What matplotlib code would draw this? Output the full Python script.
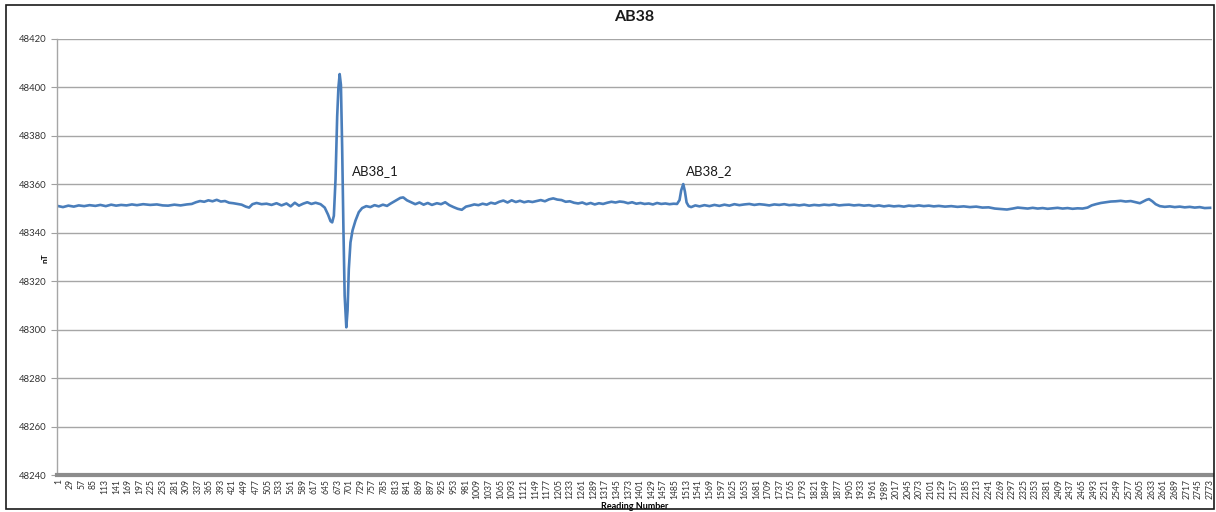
import matplotlib.pyplot as plt
from matplotlib.patches import Rectangle

# Magnetometer readings (reading number, total field in nT)
readings = [
    1, 12, 25, 38, 50, 63, 76, 90, 102, 115, 128, 140, 152, 165, 178, 190,
    205, 222, 238, 252, 265, 280, 295, 310, 322, 332, 342, 352, 362, 372,
    382, 392, 402, 412, 422, 432, 442, 452, 460, 468, 478, 490, 502, 514,
    526, 538, 550, 560, 570, 580, 590, 600, 610, 620, 632, 642, 650, 656,
    660, 664, 668, 672, 675, 678, 681, 684, 687, 690, 694, 697, 700, 704,
    709, 716, 724, 732, 742, 752, 762, 772, 782, 792, 800, 808, 816, 824,
    831, 840, 850, 860, 870, 880, 890, 900, 912, 922, 932, 942, 952, 962,
    972, 982, 992, 1002, 1012, 1022, 1032, 1042, 1052, 1062, 1072, 1082,
    1092, 1102, 1112, 1122, 1132, 1142, 1152, 1162, 1172, 1182, 1192, 1202,
    1212, 1222, 1232, 1242, 1252, 1262, 1272, 1282, 1292, 1302, 1312, 1322,
    1332, 1342, 1352, 1362, 1372, 1382, 1392, 1402, 1412, 1422, 1432, 1442,
    1452, 1462, 1472, 1482, 1490, 1496, 1500, 1505, 1509, 1513, 1518, 1524,
    1534, 1544, 1556, 1568, 1580, 1592, 1604, 1616, 1628, 1640, 1652, 1664,
    1676, 1688, 1700, 1712, 1724, 1736, 1748, 1760, 1772, 1784, 1796, 1808,
    1820, 1832, 1844, 1856, 1868, 1880, 1892, 1904, 1916, 1928, 1940, 1952,
    1964, 1976, 1988, 2000, 2012, 2024, 2036, 2048, 2060, 2072, 2084, 2096,
    2108, 2120, 2135, 2150, 2165, 2180, 2195, 2210, 2225, 2240, 2255, 2270,
    2284, 2298, 2310, 2322, 2334, 2346, 2358, 2370, 2382, 2394, 2406, 2418,
    2430, 2442, 2454, 2466, 2478, 2488, 2498, 2510, 2522, 2534, 2546, 2558,
    2570, 2582, 2594, 2604, 2612, 2620, 2626, 2634, 2642, 2652, 2664, 2676,
    2688, 2700, 2712, 2724, 2736, 2748, 2760, 2773,
]
field_nt = [
    48351.0, 48350.6, 48351.2, 48350.8, 48351.3, 48351.0, 48351.4, 48351.1,
    48351.5, 48351.0, 48351.6, 48351.2, 48351.5, 48351.3, 48351.7, 48351.4,
    48351.8, 48351.5, 48351.7, 48351.3, 48351.2, 48351.6, 48351.3, 48351.7,
    48351.9, 48352.6, 48353.1, 48352.8, 48353.4, 48353.0, 48353.6, 48352.9,
    48353.1, 48352.4, 48352.2, 48351.9, 48351.6, 48350.8, 48350.4, 48351.8,
    48352.3, 48351.8, 48352.0, 48351.5, 48352.2, 48351.3, 48352.1, 48350.9,
    48352.4, 48351.2, 48352.0, 48352.6, 48351.9, 48352.4, 48351.8, 48350.4,
    48347.5, 48344.8, 48344.3, 48347.0, 48362.0, 48388.0, 48400.0, 48405.5,
    48401.0, 48375.0, 48342.0, 48314.0, 48301.0, 48308.0, 48325.0, 48336.0,
    48341.0, 48345.0, 48348.5, 48350.2, 48351.0, 48350.6, 48351.4, 48350.9,
    48351.6, 48351.1, 48352.0, 48352.8, 48353.6, 48354.4, 48354.6, 48353.4,
    48352.6, 48351.8, 48352.5, 48351.6, 48352.3, 48351.5, 48352.2, 48351.8,
    48352.6, 48351.4, 48350.6, 48349.9, 48349.5, 48350.8, 48351.2, 48351.7,
    48351.4, 48352.0, 48351.6, 48352.4, 48352.0, 48352.8, 48353.3, 48352.5,
    48353.4, 48352.7, 48353.2, 48352.6, 48353.0, 48352.7, 48353.1, 48353.5,
    48353.0, 48353.8, 48354.2, 48353.7, 48353.5, 48352.8, 48353.0, 48352.4,
    48352.1, 48352.5, 48351.8, 48352.3, 48351.7, 48352.2, 48351.9, 48352.4,
    48352.8, 48352.5, 48352.9, 48352.7, 48352.2, 48352.6, 48352.0, 48352.3,
    48351.9, 48352.1, 48351.7, 48352.3, 48351.9, 48352.1, 48351.8, 48352.0,
    48351.9, 48353.5, 48357.5, 48360.1, 48357.0, 48352.5, 48351.0, 48350.6,
    48351.3, 48350.9, 48351.4, 48351.0, 48351.5, 48351.1, 48351.6, 48351.2,
    48351.8, 48351.4, 48351.7, 48351.9, 48351.5, 48351.8, 48351.6, 48351.3,
    48351.7, 48351.5, 48351.8, 48351.4, 48351.6, 48351.3, 48351.6, 48351.2,
    48351.5, 48351.3, 48351.6, 48351.4, 48351.7, 48351.3, 48351.5, 48351.6,
    48351.3, 48351.5, 48351.2, 48351.4, 48351.0, 48351.3, 48350.9, 48351.2,
    48350.9, 48351.1, 48350.8, 48351.2, 48351.0, 48351.3, 48351.0, 48351.2,
    48350.9, 48351.1, 48350.8, 48351.0, 48350.7, 48350.9, 48350.6, 48350.8,
    48350.4, 48350.5, 48350.0, 48349.8, 48349.6, 48350.0, 48350.4, 48350.2,
    48350.0, 48350.3, 48350.0, 48350.2, 48349.9, 48350.1, 48350.3, 48350.0,
    48350.2, 48349.9, 48350.1, 48350.0, 48350.4, 48351.3, 48351.8, 48352.3,
    48352.6, 48352.9, 48353.0, 48353.2, 48352.9, 48353.1, 48352.6, 48352.2,
    48352.9, 48353.6, 48353.9, 48353.0, 48351.8, 48351.0, 48350.7, 48350.9,
    48350.6, 48350.8, 48350.5, 48350.7, 48350.4, 48350.6, 48350.2, 48350.3,
]

# Category labels every 28 readings
tick_readings = list(range(1, 2774, 28))

# Anomaly labels: (text, reading, nT)
anomaly_labels = [("AB38_1", 708, 48365.5), ("AB38_2", 1512, 48365.5)]

plt.rcParams['font.family'] = ['Lato', 'DejaVu Sans']

fig = plt.figure(figsize=(12.16, 5.12), dpi=100)
ax = fig.add_axes([0.047, 0.072, 0.9495, 0.852])

ax.plot(readings, field_nt, color='#4a7ebb', linewidth=1.9)

for text, r, v in anomaly_labels:
    ax.text(r, v, text, fontsize=9.5, color='#1a1a1a', ha='left', va='center')

ax.set_xlim(-2, 2777)
ax.set_ylim(48240, 48420)
ax.set_yticks(range(48240, 48421, 20))
ax.set_xticks(tick_readings)
ax.set_xticklabels([str(t) for t in tick_readings], rotation=90, fontsize=6.2, color='#333333')
ax.tick_params(axis='y', labelsize=6.8, labelcolor='#333333', length=4, color='#a0a0a0')
ax.tick_params(axis='x', length=0, pad=3)

ax.grid(axis='y', color='#a6a6a6', linewidth=1.0)
ax.set_axisbelow(True)

for side in ('top', 'right'):
    ax.spines[side].set_visible(False)
ax.spines['left'].set_color('#a6a6a6')
ax.spines['left'].set_linewidth(1.0)
ax.spines['bottom'].set_color('#8c8c8c')
ax.spines['bottom'].set_linewidth(3.0)

ax.set_title('AB38', fontsize=11.5, fontweight='bold', color='#1a1a1a', pad=13)
ax.set_xlabel('Reading Number', fontsize=6.5, fontweight='bold', labelpad=2)
# y label sits in the tick-label column, between 48320 and 48340
fig.text(45 / 1216, 1 - 258 / 512, 'nT', fontsize=6, fontweight='bold',
         rotation=90, ha='center', va='center')

# Outer chart border
fig.patches.append(Rectangle((0.005, 0.005), 0.993, 0.985, transform=fig.transFigure,
                             fill=False, edgecolor='#1a1a1a', linewidth=1.2))

fig.savefig('out.png', dpi=100)
